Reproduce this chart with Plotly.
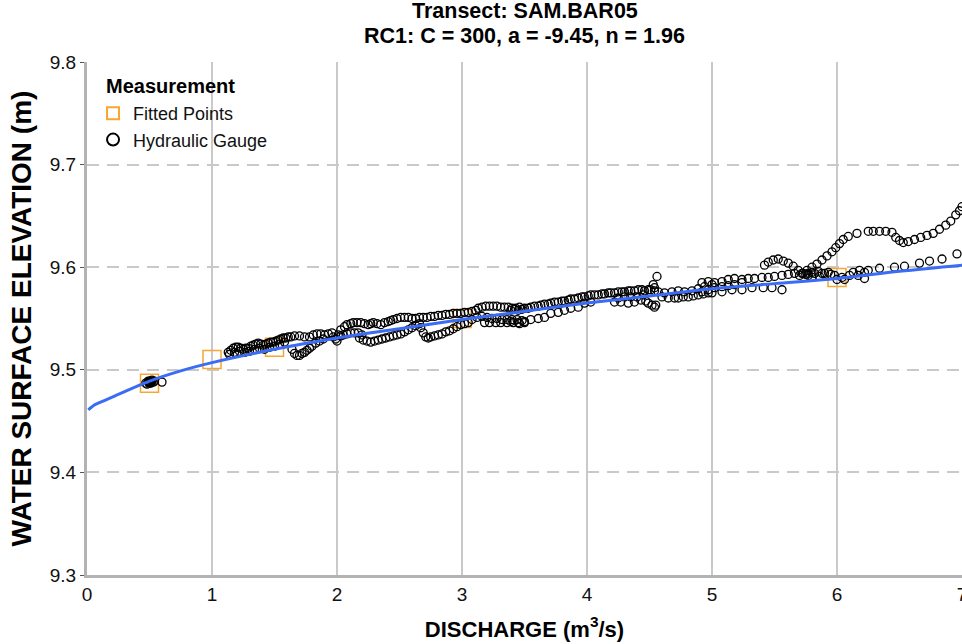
import plotly.graph_objects as go

# ---------------- data ----------------
title_lines = ["Transect: SAM.BAR05", "RC1: C = 300, a = -9.45, n = 1.96"]
legend_title = "Measurement"
x_ticks = [0, 1, 2, 3, 4, 5, 6, 7]
y_ticks = [9.3, 9.4, 9.5, 9.6, 9.7, 9.8]

# Fitted points (discharge, elevation)
fitted_q = [0.5, 1.0, 1.5, 3.0, 6.0]
fitted_h = [9.487, 9.510, 9.522, 9.550, 9.590]

# Rating curve
curve_q = [0.01, 0.03, 0.05, 0.1, 0.25, 0.5, 0.75, 1.0, 1.5, 2.0, 2.5, 3.0, 3.5, 4.0, 4.5, 5.0, 5.5, 6.0, 6.5, 7.0]
curve_h = [9.461, 9.463, 9.465, 9.468, 9.476, 9.489, 9.499, 9.507, 9.520, 9.531, 9.540, 9.549, 9.557,
           9.565, 9.572, 9.579, 9.584, 9.589, 9.596, 9.602]

# Hydraulic gauge readings, grouped by strand: (discharge, elevation)
gauge_low = [(0.47, 9.487), (0.48, 9.486), (0.49, 9.488), (0.50, 9.487), (0.50, 9.489), (0.51, 9.488),
             (0.52, 9.489), (0.53, 9.488), (0.54, 9.489), (0.49, 9.489), (0.51, 9.487), (0.52, 9.490),
             (0.60, 9.488)]

gauge_a = [(1.13, 9.517), (1.15, 9.519), (1.17, 9.521), (1.19, 9.522), (1.21, 9.522), (1.23, 9.521),
           (1.25, 9.520), (1.27, 9.521), (1.29, 9.521), (1.31, 9.523), (1.33, 9.524), (1.35, 9.525),
           (1.37, 9.526), (1.39, 9.525), (1.41, 9.524), (1.43, 9.525), (1.45, 9.526), (1.47, 9.527),
           (1.49, 9.527), (1.51, 9.528), (1.53, 9.529), (1.55, 9.530), (1.57, 9.531), (1.59, 9.531),
           (1.61, 9.532), (1.63, 9.532), (1.66, 9.533), (1.70, 9.533), (1.74, 9.532), (1.78, 9.532),
           (1.81, 9.534), (1.84, 9.535), (1.87, 9.535), (1.90, 9.534), (1.93, 9.535), (1.96, 9.536),
           (1.14, 9.515), (1.18, 9.517), (1.22, 9.518), (1.26, 9.517), (1.30, 9.518), (1.34, 9.520),
           (1.38, 9.521), (1.42, 9.520), (1.46, 9.522), (1.50, 9.523), (1.54, 9.525), (1.58, 9.527),
           (1.64, 9.520), (1.66, 9.516), (1.68, 9.514), (1.70, 9.514), (1.72, 9.516), (1.74, 9.517),
           (1.76, 9.519), (1.78, 9.521), (1.80, 9.523), (1.83, 9.526), (1.86, 9.528), (1.89, 9.530)]

gauge_b = [(1.97, 9.532), (1.99, 9.530), (2.00, 9.528), (2.01, 9.534), (2.03, 9.539), (2.06, 9.542),
           (2.08, 9.544), (2.11, 9.545), (2.13, 9.546), (2.16, 9.546), (2.19, 9.546), (2.22, 9.545),
           (2.25, 9.544), (2.27, 9.545), (2.29, 9.546), (2.32, 9.545), (2.35, 9.544), (2.38, 9.546),
           (2.41, 9.547), (2.43, 9.548), (2.45, 9.549), (2.48, 9.550), (2.51, 9.551), (2.54, 9.551),
           (2.57, 9.551), (2.60, 9.550), (2.63, 9.550),
           (2.03, 9.533), (2.05, 9.534), (2.08, 9.535), (2.11, 9.536), (2.14, 9.536), (2.17, 9.536),
           (2.20, 9.534),
           (2.18, 9.531), (2.21, 9.529), (2.24, 9.528), (2.27, 9.527), (2.30, 9.528), (2.33, 9.529),
           (2.36, 9.530), (2.39, 9.531), (2.42, 9.532), (2.45, 9.533), (2.48, 9.534), (2.51, 9.535),
           (2.54, 9.537), (2.57, 9.539), (2.60, 9.541), (2.63, 9.543)]

gauge_c = [(2.66, 9.545), (2.67, 9.541), (2.69, 9.536), (2.71, 9.532), (2.73, 9.531), (2.75, 9.532),
           (2.78, 9.533), (2.81, 9.534), (2.84, 9.535), (2.87, 9.537), (2.90, 9.538), (2.93, 9.540),
           (2.96, 9.542), (2.99, 9.544), (3.02, 9.545), (3.05, 9.546),
           (2.66, 9.551), (2.69, 9.551), (2.72, 9.551), (2.75, 9.552), (2.78, 9.552), (2.81, 9.553),
           (2.84, 9.553), (2.87, 9.554), (2.90, 9.554), (2.93, 9.555), (2.96, 9.555), (2.99, 9.555),
           (3.02, 9.556), (3.05, 9.556), (3.08, 9.557), (3.11, 9.558),
           (3.08, 9.549), (3.12, 9.551), (3.16, 9.552), (3.20, 9.551), (3.24, 9.550), (3.28, 9.550),
           (3.32, 9.549), (3.36, 9.549), (3.40, 9.549), (3.44, 9.549), (3.48, 9.548),
           (3.18, 9.546), (3.22, 9.546), (3.27, 9.546), (3.31, 9.546), (3.36, 9.546), (3.41, 9.546),
           (3.46, 9.545), (3.50, 9.546),
           (3.13, 9.560), (3.16, 9.561), (3.19, 9.562), (3.22, 9.562), (3.25, 9.562), (3.28, 9.562),
           (3.31, 9.561), (3.34, 9.561), (3.37, 9.561), (3.40, 9.560), (3.43, 9.560), (3.46, 9.561)]

gauge_d = [(3.39, 9.558), (3.45, 9.558), (3.50, 9.560), (3.55, 9.561), (3.61, 9.562), (3.66, 9.564),
           (3.71, 9.565), (3.77, 9.566), (3.82, 9.567), (3.87, 9.569), (3.93, 9.570), (3.98, 9.571),
           (4.03, 9.573), (4.09, 9.573), (4.14, 9.574), (4.19, 9.575), (4.25, 9.576), (4.30, 9.576),
           (4.35, 9.577), (4.41, 9.578), (4.46, 9.577), (4.51, 9.578), (4.57, 9.576), (4.62, 9.575),
           (4.68, 9.576), (4.73, 9.577), (4.78, 9.576), (4.84, 9.577), (4.89, 9.579), (4.94, 9.581),
           (5.00, 9.583),
           (3.42, 9.559), (3.48, 9.559), (3.53, 9.560), (3.58, 9.562), (3.63, 9.563), (3.69, 9.564),
           (3.74, 9.566), (3.80, 9.567), (3.85, 9.568), (3.90, 9.569), (3.96, 9.571), (4.01, 9.572),
           (4.06, 9.573), (4.12, 9.574), (4.17, 9.575), (4.22, 9.575), (4.28, 9.576), (4.33, 9.577),
           (4.38, 9.577), (4.44, 9.578), (4.49, 9.578), (4.54, 9.577),
           (3.39, 9.547), (3.45, 9.546), (3.50, 9.547), (3.55, 9.549), (3.61, 9.550), (3.66, 9.551),
           (3.71, 9.555), (3.77, 9.556), (3.82, 9.558), (3.87, 9.560), (3.93, 9.561), (3.98, 9.565),
           (4.03, 9.566),
           (4.22, 9.566), (4.27, 9.566), (4.33, 9.565), (4.38, 9.566), (4.43, 9.568), (4.47, 9.567),
           (4.49, 9.565), (4.52, 9.563), (4.54, 9.561), (4.55, 9.563), (4.45, 9.573), (4.40, 9.571),
           (4.35, 9.571), (4.30, 9.571), (4.25, 9.570),
           (4.56, 9.591), (4.54, 9.580), (4.53, 9.583),
           (4.60, 9.571), (4.65, 9.570), (4.70, 9.570), (4.73, 9.570), (4.77, 9.571), (4.81, 9.571),
           (4.85, 9.572), (4.89, 9.573), (4.93, 9.574), (4.97, 9.575)]

gauge_e = [(4.92, 9.585), (4.97, 9.586), (5.02, 9.585), (5.08, 9.586), (5.13, 9.588), (5.18, 9.589),
           (5.24, 9.588), (5.29, 9.589), (5.34, 9.589), (5.40, 9.590), (5.45, 9.590), (5.50, 9.591),
           (5.56, 9.592), (5.61, 9.593), (5.66, 9.594), (5.72, 9.594), (5.77, 9.594), (5.82, 9.594),
           (5.88, 9.594), (5.93, 9.595),
           (4.92, 9.576), (4.97, 9.578), (5.02, 9.580), (5.08, 9.581), (5.13, 9.582), (5.18, 9.583),
           (5.24, 9.585),
           (5.00, 9.575), (5.08, 9.576), (5.16, 9.578), (5.24, 9.578), (5.32, 9.580), (5.41, 9.580),
           (5.48, 9.580), (5.56, 9.578),
           (5.42, 9.602), (5.45, 9.605), (5.49, 9.607), (5.53, 9.608), (5.57, 9.606), (5.61, 9.604),
           (5.65, 9.601), (5.69, 9.597), (5.73, 9.594), (5.77, 9.592),
           (5.70, 9.592), (5.75, 9.593), (5.80, 9.595), (5.85, 9.596), (5.90, 9.594), (5.95, 9.593),
           (5.80, 9.590), (5.86, 9.591)]

gauge_f = [(5.76, 9.597), (5.80, 9.600), (5.84, 9.603), (5.88, 9.607), (5.92, 9.611), (5.96, 9.615),
           (5.99, 9.619), (6.02, 9.623), (6.05, 9.627), (6.09, 9.630), (6.16, 9.633), (6.25, 9.635),
           (6.29, 9.635), (6.34, 9.635), (6.39, 9.635), (6.44, 9.634), (6.47, 9.629), (6.50, 9.626),
           (6.53, 9.624), (6.57, 9.625), (6.62, 9.627), (6.67, 9.629), (6.72, 9.631), (6.77, 9.633),
           (6.82, 9.637), (6.87, 9.641), (6.91, 9.645), (6.95, 9.651), (6.98, 9.655), (7.00, 9.659),
           (5.98, 9.592), (6.04, 9.590), (6.10, 9.592), (6.17, 9.592), (6.22, 9.589), (6.22, 9.595),
           (6.18, 9.597), (6.13, 9.595), (6.00, 9.588), (6.06, 9.588),
           (6.25, 9.597), (6.34, 9.599), (6.46, 9.600), (6.54, 9.601), (6.66, 9.604), (6.74, 9.606),
           (6.84, 9.608), (6.96, 9.613)]

gauge_strands = [gauge_low, gauge_a, gauge_b, gauge_c, gauge_d, gauge_e, gauge_f]
gauge_q = [p[0] for s in gauge_strands for p in s]
gauge_h = [p[1] for s in gauge_strands for p in s]

# ---------------- figure ----------------
FONT = "Liberation Sans, Arial, sans-serif"

fig = go.Figure()
fig.add_trace(go.Scatter(
    x=fitted_q, y=fitted_h, mode="markers", name="Fitted Points",
    marker=dict(symbol="square-open", size=18, color="#F7A630", line=dict(width=1.5)),
))
fig.add_trace(go.Scatter(
    x=gauge_q, y=gauge_h, mode="markers", name="Hydraulic Gauge",
    marker=dict(symbol="circle-open", size=8, color="#000000", line=dict(width=1.3)),
))
fig.add_trace(go.Scatter(
    x=curve_q, y=curve_h, mode="lines", name="RC1", showlegend=False,
    line=dict(color="#3B6CF5", width=3, shape="spline"),
))

# Title lines and legend heading as annotations
fig.add_annotation(text="<b>" + title_lines[0] + "</b>", xref="paper", yref="paper",
                   x=0.5, y=1, xanchor="center", yanchor="bottom", yshift=37, showarrow=False,
                   font=dict(size=21.5, color="#000000", family=FONT))
fig.add_annotation(text="<b>" + title_lines[1] + "</b>", xref="paper", yref="paper",
                   x=0.5, y=1, xanchor="center", yanchor="bottom", yshift=12, showarrow=False,
                   font=dict(size=21.5, color="#000000", family=FONT))
fig.add_annotation(text="<b>" + legend_title + "</b>", xref="paper", yref="paper",
                   x=0.0194, y=0.9532, xanchor="left", yanchor="middle", showarrow=False,
                   font=dict(size=20, color="#000000", family=FONT))

fig.update_layout(
    width=962, height=644,
    margin=dict(l=87, r=0, t=62, b=69, autoexpand=False),
    paper_bgcolor="white", plot_bgcolor="white",
    font=dict(family=FONT, color="#111111"),
    legend=dict(
        x=0.0069, y=0.9357, xanchor="left", yanchor="top",
        bgcolor="rgba(0,0,0,0)",
        font=dict(size=18, color="#111111"),
        itemsizing="constant",
        tracegroupgap=0,
    ),
    xaxis=dict(
        range=[0, 7.0], tickvals=x_ticks, ticktext=[str(v) for v in x_ticks],
        showgrid=True, gridcolor="#C9C9C9", gridwidth=2, automargin=False,
        zeroline=False, showline=True, linecolor="#B3B3B3", linewidth=3,
        ticks="", tickfont=dict(size=19, color="#111111"), ticklabeloverflow="allow",
        title=dict(text="<b>DISCHARGE (m<sup>3</sup>/s)</b>", font=dict(size=22, color="#000000"), standoff=18),
    ),
    yaxis=dict(
        range=[9.3, 9.8], tickvals=y_ticks, ticktext=["%.1f" % v for v in y_ticks],
        showgrid=True, gridcolor="#C9C9C9", gridwidth=2, griddash="12px,8px", automargin=False,
        zeroline=False, showline=True, linecolor="#B3B3B3", linewidth=3,
        ticks="outside", ticklen=4, tickcolor="#555555", tickwidth=1,
        tickfont=dict(size=19, color="#111111"),
        title=dict(text="<b>WATER SURFACE ELEVATION (m)</b>", font=dict(size=28, color="#000000"), standoff=10),
    ),
)

fig.write_html("out.html")
